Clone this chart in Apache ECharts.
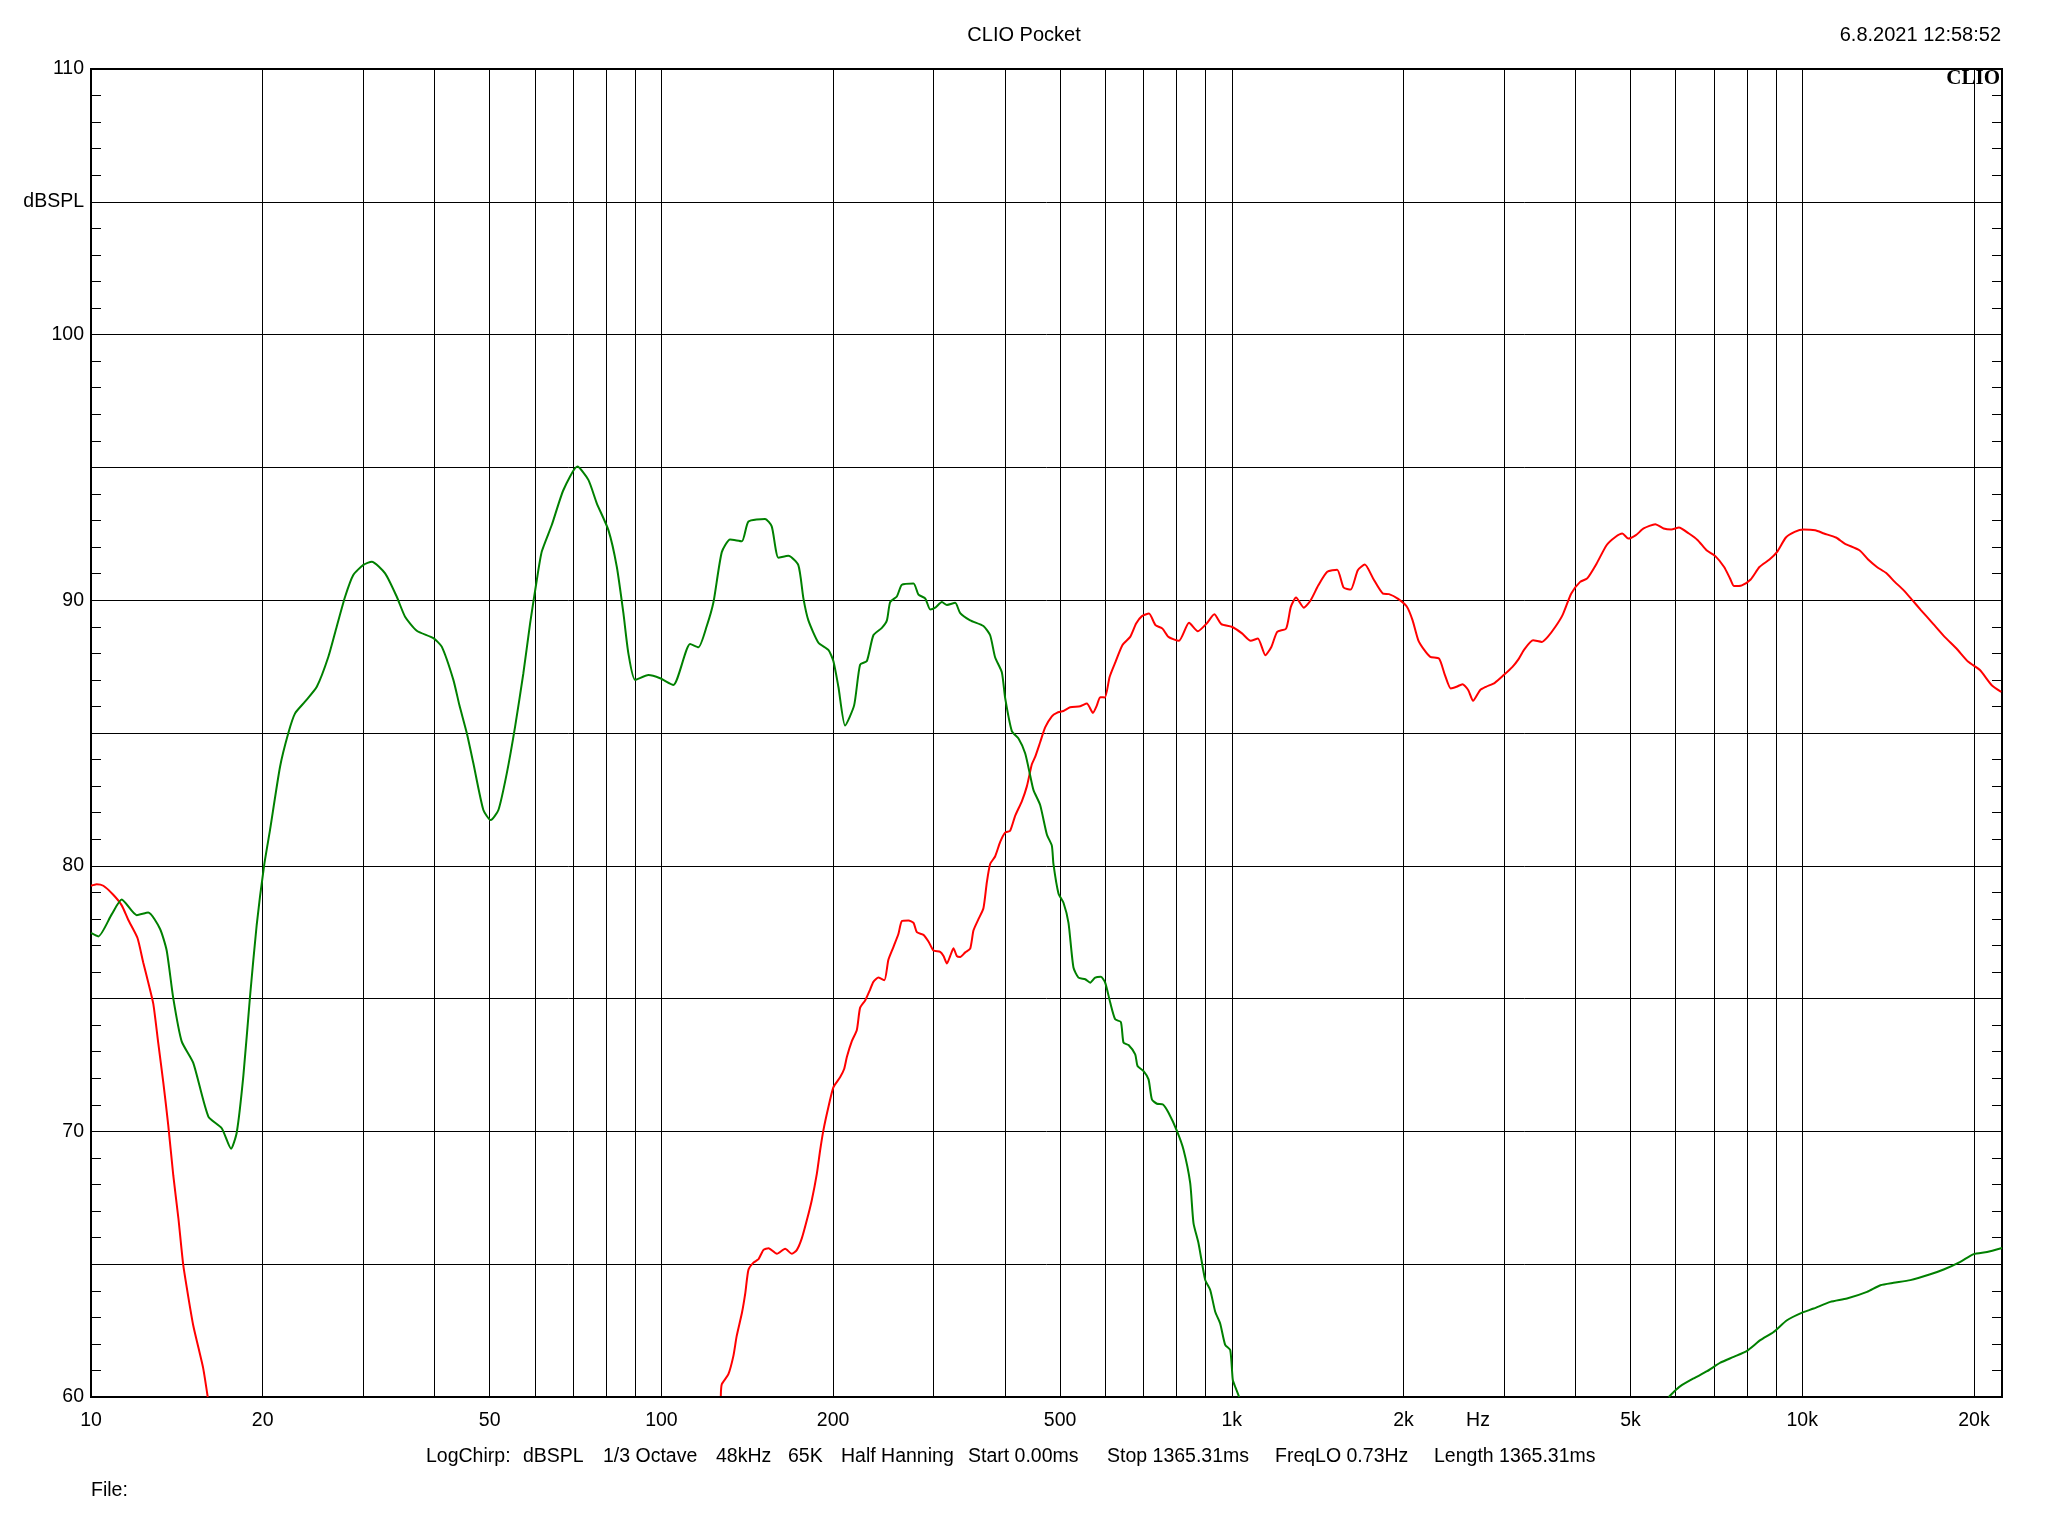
<!DOCTYPE html>
<html>
<head>
<meta charset="utf-8">
<script src="https://cdn.jsdelivr.net/npm/echarts@6/dist/echarts.min.js"></script>
<style>
html,body{margin:0;padding:0;background:#fff;}
#c{width:2048px;height:1536px;}
</style>
</head>
<body>
<div id="c"></div>
<script>
// ---------- data ----------
const greenLowFreq = [10, 10.3, 10.87, 11.32, 12.03, 12.6, 13.21, 13.57, 13.94, 14.42,
  15.11, 16.06, 16.95, 17.6, 18.01, 18.5, 19.0, 19.52, 20.11, 20.6,
  21.45, 22.18, 22.79, 23.72, 24.88, 26.07, 26.96, 27.89, 28.83, 30.03,
  31.06, 32.78, 34.36, 35.53, 37.25, 39.83, 41.2, 43.18, 44.24, 45.58,
  46.81, 48.74, 50.22, 51.79, 53.57, 55.4, 57.28, 58.86, 60.47, 61.7,
  64.24, 67.33, 71.24, 74.47, 77.04, 80.74, 83.52, 85.78, 87.52, 89.94,
  94.89, 99.47, 104.95, 112.27, 116.11, 120.1, 123.4, 127.6, 131.96, 138.4,
  142.1, 151.96, 156.1, 160.4, 166.96, 173.8, 177.4, 181.0, 188.5, 196.2,
  200.2, 204.3, 209.9, 217.7, 223.0, 229.2, 235.3, 243.5, 248.5, 251.8,
  258.7, 264.0, 276.7, 282.3, 290.0, 296.0, 302.0, 310.3, 316.6, 327.4,
  334.1, 347.8, 366.9, 377.0, 384.6, 395.2, 400.5, 411.5, 422.7, 434.2,
  443.1, 449.1, 461.3, 474.0, 483.6, 486.7, 496.7, 506.9, 517.2, 527.7,
  538.5, 553.4, 564.6, 576.1, 589.6, 599.8, 612.1, 624.5, 639.0, 645.9,
  659.1, 677.1, 683.5, 700.3, 714.5, 724.4, 739.2, 757.3, 774.6, 801.2,
  822.9, 845.3, 856.7, 874.2, 898.1, 916.5, 935.2, 954.1, 973.7, 993.6,
  1004, 1014, 1030];
const greenLowDb = [77.47, 77.34, 78.17, 78.73, 78.14, 78.24, 77.63, 76.82, 75.01, 73.39,
  72.58, 70.56, 70.12, 69.35, 69.96, 72.11, 75.07, 77.77, 80.0, 81.35,
  83.73, 85.0, 85.74, 86.18, 86.74, 87.87, 89.0, 90.13, 90.95, 91.33,
  91.45, 91.01, 90.13, 89.38, 88.85, 88.57, 88.25, 87.0, 86.05, 85.0,
  83.86, 82.10, 81.72, 82.1, 83.48, 85.24, 87.25, 89.13, 90.76, 91.83,
  92.83, 94.15, 95.03, 94.53, 93.65, 92.64, 91.26, 89.51, 88.0, 87.0,
  87.18, 87.06, 86.81, 88.35, 88.23, 89.03, 89.93, 91.81, 92.29, 92.22,
  92.96, 93.06, 92.78, 91.60, 91.67, 91.32, 90.07, 89.24, 88.40, 88.13,
  87.71, 86.74, 85.28, 86.04, 87.57, 87.71, 88.68, 88.96, 89.24, 89.93,
  90.14, 90.58, 90.63, 90.21, 90.07, 89.65, 89.72, 89.93, 89.82, 89.90,
  89.51, 89.24, 89.03, 88.68, 87.85, 87.29, 86.32, 85.07, 84.79, 84.24,
  83.40, 82.85, 82.29, 81.18, 80.76, 80.07, 78.96, 78.61, 77.85, 76.17,
  75.79, 75.73, 75.60, 75.79, 75.82, 75.60, 74.85, 74.22, 74.12, 73.34,
  73.25, 72.90, 72.46, 72.27, 71.96, 71.20, 71.04, 71.01, 70.70, 70.02,
  69.31, 68.06, 66.55, 65.79, 64.41, 64.03, 63.21, 62.77, 61.96, 61.77,
  60.64, 60.38, 60.0];

const greenHighFreq = [5834, 5952, 6115, 6452, 6811, 7187, 7582, 8003, 8444, 8909,
  9404, 9975, 10470, 11200, 11980, 12990, 13710, 14460, 15470, 16770,
  17700, 18930, 19980, 21090, 22400];
const greenHighDb = [60.0, 60.19, 60.41, 60.70, 60.97, 61.29, 61.51, 61.74, 62.14, 62.45,
  62.89, 63.17, 63.33, 63.58, 63.71, 63.96, 64.21, 64.30, 64.40, 64.62,
  64.80, 65.09, 65.38, 65.46, 65.61];

const redLowFreq = [10, 10.23, 10.51, 10.94, 11.32, 11.62, 12.06, 12.35, 12.6, 12.86,
  13.12, 13.39, 13.66, 13.94, 14.23, 14.51, 14.81, 15.11, 15.42, 15.73, 16.02];
const redLowDb = [79.25, 79.31, 79.25, 78.91, 78.51, 77.97, 77.29, 76.35, 75.61, 74.80,
  73.32, 71.84, 70.23, 68.34, 66.73, 64.98, 63.77, 62.69, 61.88, 61.08, 60.0];

const redMainFreq = [127.1, 127.6, 131.0, 133.7, 135.5, 138.4, 140.3, 142.1, 145.0, 148.0,
  151.0, 154.1, 159.4, 164.8, 169.3, 172.8, 176.3, 179.9, 183.5, 187.3,
  189.8, 192.3, 196.2, 200.2, 205.7, 209.1, 211.4, 215.7, 220.1, 223.0,
  227.6, 232.3, 235.3, 240.2, 246.0, 250.0, 255.1, 260.3, 264.0, 271.1,
  276.7, 280.4, 288.0, 293.9, 299.9, 308.1, 312.3, 316.6, 320.8, 325.1,
  329.6, 334.1, 340.9, 347.8, 352.5, 359.6, 366.9, 372.0, 377.0, 384.6,
  392.6, 400.5, 408.7, 417.0, 428.4, 437.2, 446.1, 452.1, 461.3, 470.7,
  483.6, 493.5, 506.9, 520.7, 542.3, 557.1, 570.8, 580.0, 587.8, 599.1,
  610.6, 625.4, 643.2, 663.5, 679.6, 695.7, 715.8, 734.8, 755.9, 774.2,
  807.8, 841.4, 871.8, 903.3, 931.8, 958.5, 1000, 1042, 1079, 1111,
  1145, 1173, 1201, 1245, 1269, 1296, 1337, 1375, 1418, 1470,
  1530, 1570, 1616, 1663, 1711, 1769, 1841, 1886, 1954, 2025,
  2074, 2123, 2176, 2228, 2309, 2364, 2420, 2477, 2537, 2598,
  2648, 2724, 2790, 2891, 2997, 3105, 3180, 3255, 3374, 3496,
  3580, 3692, 3800, 3937, 4080, 4198, 4361, 4539, 4704, 4838,
  4955, 5110, 5272, 5526, 5715, 5893, 6079, 6330, 6559, 6796,
  7042, 7296, 7473, 7598, 7838, 8121, 8414, 8762, 9036, 9362,
  9699, 10050, 10540, 10920, 11460, 11870, 12600, 13050, 13520, 14020,
  14530, 15050, 15600, 16160, 16950, 17770, 18640, 19550, 20490, 21490,
  22330];
const redMainDb = [60.04, 60.48, 60.85, 61.54, 62.29, 63.16, 63.91, 64.79, 65.06, 65.19,
  65.54, 65.60, 65.39, 65.58, 65.39, 65.54, 65.98, 66.66, 67.41, 68.41,
  69.29, 70.04, 70.91, 71.66, 72.04, 72.35, 72.8, 73.40, 73.82, 74.65,
  74.93, 75.35, 75.63, 75.79, 75.69, 76.46, 76.94, 77.43, 77.92, 77.94,
  77.85, 77.50, 77.40, 77.15, 76.81, 76.76, 76.60, 76.32, 76.60, 76.90,
  76.60, 76.57, 76.74, 76.88, 77.57, 77.99, 78.40, 79.38, 80.07, 80.35,
  80.90, 81.25, 81.32, 81.88, 82.43, 82.99, 83.82, 84.10, 84.65, 85.21,
  85.63, 85.76, 85.83, 85.97, 86.01, 86.11, 85.76, 86.04, 86.35, 86.34,
  87.11, 87.68, 88.31, 88.62, 89.12, 89.40, 89.50, 89.06, 88.93, 88.62,
  88.47, 89.15, 88.83, 89.12, 89.47, 89.10, 89.00, 88.75, 88.47, 88.56,
  87.93, 88.24, 88.81, 88.93, 89.75, 90.10, 89.72, 90.0, 90.56, 91.07,
  91.15, 90.48, 90.40, 91.13, 91.34, 90.82, 90.25, 90.23, 90.06, 89.77,
  89.25, 88.49, 88.12, 87.87, 87.80, 87.18, 86.68, 86.74, 86.84, 86.61,
  86.21, 86.61, 86.74, 86.89, 87.18, 87.49, 87.77, 88.14, 88.49, 88.43,
  88.62, 89.0, 89.44, 90.25, 90.69, 90.82, 91.38, 92.07, 92.38, 92.51,
  92.32, 92.45, 92.70, 92.86, 92.70, 92.66, 92.74, 92.51, 92.26, 91.88,
  91.66, 91.25, 90.82, 90.53, 90.56, 90.78, 91.25, 91.53, 91.82, 92.36,
  92.57, 92.66, 92.63, 92.51, 92.36, 92.13, 91.88, 91.53, 91.25, 91.03,
  90.69, 90.38, 90.0, 89.62, 89.12, 88.62, 88.18, 87.68, 87.37, 86.80,
  86.55];

// axis ticks / labels
const freqMin = 10;
const freqMax = 22400;
const gridFreqs = [20, 30, 40, 50, 60, 70, 80, 90, 100, 200, 300, 400, 500, 600, 700, 800, 900,
  1000, 2000, 3000, 4000, 5000, 6000, 7000, 8000, 9000, 10000, 20000];
const xLabelFreqs = [10, 20, 50, 100, 200, 500, 1000, 2000, 5000, 10000, 20000];
const xLabelTexts = ['10', '20', '50', '100', '200', '500', '1k', '2k', '5k', '10k', '20k'];
const yMin = 60, yMax = 110, yStep = 5;
const yUnitLabel = 'dBSPL';
const yUnitAt = 105;
const xUnitLabel = 'Hz';
const titleText = 'CLIO Pocket';
const dateText = '6.8.2021 12:58:52';
const brandText = 'CLIO';
const infoParts = ['LogChirp:', 'dBSPL', '1/3 Octave', '48kHz', '65K', 'Half Hanning',
  'Start 0.00ms', 'Stop 1365.31ms', 'FreqLO 0.73Hz', 'Length 1365.31ms'];
const fileText = 'File:';

// ---------- chart ----------
const L = Math.log10;
const toPts = (fs, ds) => fs.map((f, i) => [L(f), ds[i]]);
const FONT = '"Liberation Sans", Arial, sans-serif';
const GREEN = '#008000';
const RED = '#ff0000';

const chart = echarts.init(document.getElementById('c'), null, {renderer: 'canvas'});

function yAxisCfg(right) {
  return {
    type: 'value', min: yMin, max: yMax, interval: yStep,
    position: right ? 'right' : 'left',
    axisLine: {show: true, onZero: false, lineStyle: {color: '#000', width: 2}},
    axisTick: {show: true, inside: true, length: 10, lineStyle: {color: '#000', width: 1}},
    minorTick: {show: true, splitNumber: 5, length: 10, lineStyle: {color: '#000', width: 1}},
    splitLine: {show: !right, lineStyle: {color: '#000', width: 1}},
    axisLabel: right ? {show: false} : {
      show: true, color: '#000', fontSize: 19.5, fontFamily: FONT, margin: 7,
      formatter: v => (v % 10 === 0 ? String(v) : (v === yUnitAt ? yUnitLabel : ''))
    }
  };
}

const infoX = [426, 523, 603, 716, 788, 841, 968, 1107, 1275, 1434];
const graphics = [
  {type: 'text', x: 1024, y: 35, style: {text: titleText, font: '20px ' + FONT, fill: '#000', align: 'center', verticalAlign: 'middle'}},
  {type: 'text', x: 2001, y: 35, style: {text: dateText, font: '20px ' + FONT, fill: '#000', align: 'right', verticalAlign: 'middle'}},
  {type: 'text', x: 2000, y: 79, z: 100, style: {text: brandText, font: 'bold 21px "Liberation Serif", "Times New Roman", serif', fill: '#000', align: 'right', verticalAlign: 'middle'}},
  {type: 'text', x: 1478, y: 1421, style: {text: xUnitLabel, font: '19.5px ' + FONT, fill: '#000', align: 'center', verticalAlign: 'middle'}},
  {type: 'text', x: 91, y: 1491, style: {text: fileText, font: '19.5px ' + FONT, fill: '#000', align: 'left', verticalAlign: 'middle'}}
];
infoParts.forEach((t, i) => {
  graphics.push({type: 'text', x: infoX[i], y: 1457, style: {text: t, font: '19.5px ' + FONT, fill: '#000', align: 'left', verticalAlign: 'middle'}});
});

function lineSeries(name, color, fs, ds) {
  return {
    name, type: 'line', data: toPts(fs, ds), showSymbol: false, symbol: 'none',
    clip: true, smooth: 0.2, xAxisIndex: 0, yAxisIndex: 0,
    lineStyle: {color, width: 2}, itemStyle: {color}, z: 5
  };
}

const option = {
  animation: false,
  backgroundColor: '#fff',
  grid: {left: 91, top: 69, right: 46, bottom: 139, show: true, borderColor: '#000', borderWidth: 2, backgroundColor: 'transparent'},
  xAxis: {
    type: 'value', min: L(freqMin), max: L(freqMax),
    axisLine: {show: true, onZero: false, lineStyle: {color: '#000', width: 2}},
    axisTick: {show: false, customValues: gridFreqs.map(L)},
    axisLabel: {
      show: true, customValues: xLabelFreqs.map(L), color: '#000', fontSize: 19.5, fontFamily: FONT, margin: 14,
      formatter: v => { const i = xLabelFreqs.findIndex(f => Math.abs(L(f) - v) < 1e-6); return i >= 0 ? xLabelTexts[i] : ''; }
    },
    splitLine: {show: true, lineStyle: {color: '#000', width: 1}}
  },
  yAxis: [yAxisCfg(false), yAxisCfg(true)],
  series: [
    lineSeries('red-low', RED, redLowFreq, redLowDb),
    lineSeries('red-main', RED, redMainFreq, redMainDb),
    lineSeries('green-low', GREEN, greenLowFreq, greenLowDb),
    lineSeries('green-high', GREEN, greenHighFreq, greenHighDb)
  ],
  graphic: graphics
};
chart.setOption(option);
</script>
</body>
</html>
